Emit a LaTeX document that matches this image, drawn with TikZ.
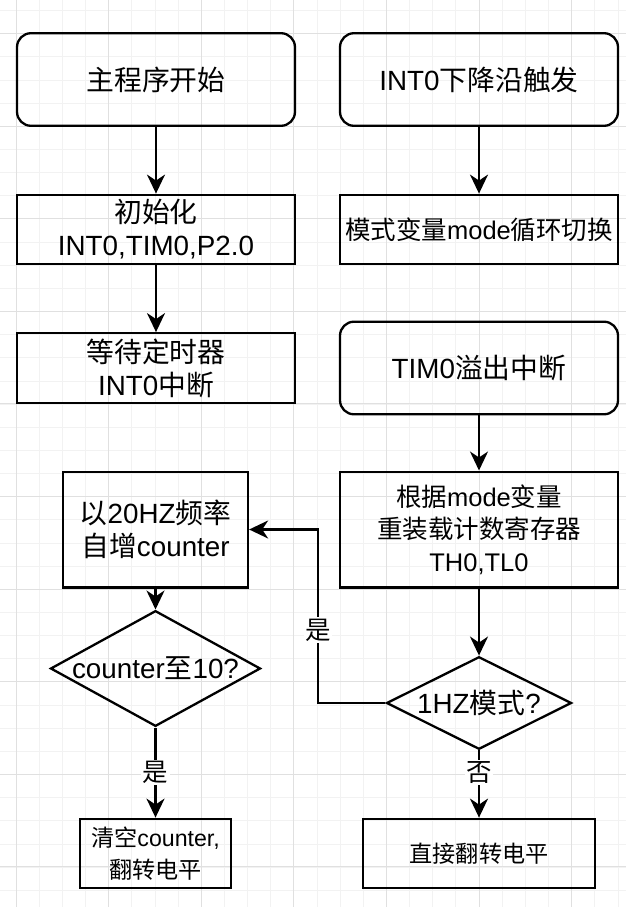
\documentclass[tikz,border=0pt]{standalone}
\usepackage{fontspec}
\setmainfont{Liberation Sans}
\newfontfamily\cjk{Noto Sans CJK SC}
\usetikzlibrary{arrows.meta,shapes.geometric,positioning}
\newcommand{\zh}[1]{{\cjk #1}}
\newcommand{\bigtxt}{\fontsize{27.8}{33}\selectfont}
\newcommand{\midtxt}{\fontsize{25.5}{32.5}\selectfont}
\newcommand{\smalltxt}{\fontsize{23.15}{32}\selectfont}

\begin{document}
\begin{tikzpicture}[x=1pt, y=-1pt,
    box/.style={draw, line width=2.3pt, inner sep=0pt, align=center, minimum width=278pt, minimum height=69.5pt, font=\bigtxt},
    startbox/.style={box, rounded corners=14pt, minimum height=92.6pt},
    decision/.style={draw, diamond, line width=2.3pt, inner sep=0pt, font=\bigtxt},
    flow/.style={draw, line width=2.3pt, -{Stealth[length=19pt, width=18pt, inset=6pt]}},
    lbl/.style={fill=white, inner sep=1.5pt, font=\midtxt},
    gridminor/.style={draw=black!5, line width=0.8pt},
    gridmajor/.style={draw=black!12, line width=0.8pt}]
    \useasboundingbox (0,0) rectangle (626,907);
    % background grid
    \begin{scope}
    \clip (0,0) rectangle (626,907);
    \draw[gridminor, shift={(16,10.5)}] (-40,-40) grid[step=23.15pt] (640,920);
    \draw[gridmajor, shift={(16,126)}] (-100,-200) grid[step=92.6pt] (640,820);
    \end{scope}

    % main program
    \node[startbox] (start) at (156,79.5) {\zh{主程序开始}};
    \node[box] (init) at (156,229.5) {\zh{初始化}\\INT0,TIM0,P2.0};
    \node[box] (wait) at (156,368) {\zh{等待定时器}\\INT0\zh{中断}};
    % interrupts
    \node[startbox] (int0) at (479,79.5) {INT0\zh{下降沿触发}};
    \node[box, font=\midtxt] (mode) at (479,229.5) {\zh{模式变量}mode\zh{循环切换}};
    \node[startbox] (tim0) at (479,368) {TIM0\zh{溢出中断}};
    \node[box, font=\midtxt, minimum height=115.7pt] (reload) at (479,529.5) {\zh{根据}mode\zh{变量}\\\zh{重装载计数寄存器}\\TH0,TL0};
    \node[decision, minimum width=185pt, minimum height=92.6pt] (is1hz) at (479,703) {\makebox[0pt]{1HZ\zh{模式}?}};
    \node[box, font=\smalltxt, minimum width=231.5pt] (toggle) at (479,853.5) {\zh{直接翻转电平}};
    \node[box, minimum width=185pt, minimum height=115.7pt] (count) at (155.5,529.5) {\zh{以}20HZ\zh{频率}\\\zh{自增}counter};
    \node[decision, minimum width=210pt, minimum height=115.7pt] (is10) at (155.5,668.5) {\makebox[0pt]{counter\zh{至}10?}};
    \node[box, font=\smalltxt, minimum width=151pt] (clear) at (155.5,853.5) {\zh{清空}counter,\\\zh{翻转电平}};
    \coordinate (yesturn) at (318,703);

    \path
    (start) edge[flow] (init)
    (init) edge[flow] (wait)
    (int0) edge[flow] (mode)
    (tim0) edge[flow] (reload)
    (reload) edge[flow] (is1hz)
    (is1hz) edge[flow] node[lbl, pos=0.33] {\zh{否}} (toggle)
    (count) edge[flow] (is10)
    (is10) edge[flow] node[lbl, pos=0.5] {\zh{是}} (clear);
    \draw[flow] (is1hz.west) -- (yesturn) |- node[lbl, pos=0.21] {\zh{是}} (count.east);
\end{tikzpicture}
\end{document}
